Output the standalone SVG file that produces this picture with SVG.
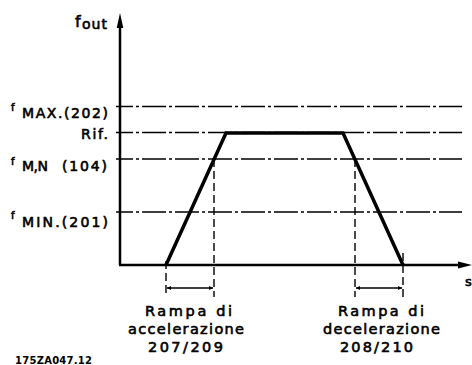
<svg xmlns="http://www.w3.org/2000/svg" width="472" height="365" viewBox="0 0 472 365">
<style>
text{font-family:"DejaVu Sans","Liberation Sans",sans-serif;fill:#000;stroke:#000;stroke-width:0.6}
.lbl{font-size:14px}
.small{font-size:10px}
.bot{font-size:14.5px;text-anchor:middle}
.ref{fill:none;stroke:#000;stroke-width:1.4;stroke-dasharray:24 3 3 3;stroke-dashoffset:7}
.vd{fill:none;stroke:#000;stroke-width:1.4;stroke-dasharray:8 4}
.axis{fill:none;stroke:#000;stroke-width:2.5}
.ramp{fill:none;stroke:#000;stroke-width:3.5;stroke-linejoin:miter}
.dim{fill:none;stroke:#000;stroke-width:1.3}
</style>
<defs>
<marker id="ah" viewBox="0 0 10 10" refX="10" refY="5" markerWidth="6" markerHeight="4" markerUnits="userSpaceOnUse" orient="auto-start-reverse">
<path d="M0,0 L10,5 L0,10 Z" fill="#000"/>
</marker>
</defs>
<rect width="472" height="365" fill="#fff"/>
<g id="reference-lines">
<line class="ref" x1="116" y1="106.5" x2="462" y2="106.5"/>
<line class="ref" x1="116" y1="132.5" x2="462" y2="132.5"/>
<line class="ref" x1="116" y1="159" x2="462" y2="159"/>
<line class="ref" x1="116" y1="212" x2="462" y2="212"/>
</g>
<g id="connectors">
<line class="vd" x1="214" y1="159" x2="214" y2="297"/>
<line class="vd" x1="355" y1="159" x2="355" y2="297"/>
<line class="vd" x1="166" y1="261" x2="166" y2="297"/>
<line class="vd" x1="403" y1="253" x2="403" y2="297"/>
<line class="dim" x1="167" y1="288" x2="213" y2="288" marker-start="url(#ah)" marker-end="url(#ah)"/>
<line class="dim" x1="356" y1="288" x2="402" y2="288" marker-start="url(#ah)" marker-end="url(#ah)"/>
</g>
<g id="axes">
<line class="axis" x1="120" y1="265" x2="120" y2="26"/>
<path d="M120,13 L123.3,28 L116.7,28 Z" fill="#000"/>
<line class="axis" x1="119" y1="265" x2="460" y2="265"/>
<path d="M472,265 L458,261.5 L458,268.5 Z" fill="#000"/>
</g>
<g id="ramp">
<polyline class="ramp" points="166,265 226,133 343,133 403,265"/>
</g>
<g id="y-labels">
<text class="lbl"><tspan x="75" y="27" style="font-size:16px">f</tspan><tspan x="82" y="29" style="font-size:14px" textLength="25" lengthAdjust="spacing">out</tspan></text>
<text class="lbl"><tspan class="small" x="11" y="111">f</tspan><tspan x="22" y="118" textLength="86" lengthAdjust="spacing">MAX.(202)</tspan></text>
<text class="lbl" x="108" y="139" text-anchor="end" textLength="27" lengthAdjust="spacing">Rif.</text>
<text class="lbl"><tspan class="small" x="11" y="165">f</tspan><tspan x="22" y="171" textLength="26" lengthAdjust="spacing">M,N</tspan><tspan x="62" y="171" textLength="45" lengthAdjust="spacing">(104)</tspan></text>
<text class="lbl"><tspan class="small" x="11" y="219">f</tspan><tspan x="22" y="226.5" textLength="86" lengthAdjust="spacing">MIN.(201)</tspan></text>
<text x="465" y="286" style="font-size:13px">s</text>
</g>
<g id="label-accel">
<text class="bot" x="188.5" y="316" textLength="87" lengthAdjust="spacing">Rampa di</text>
<text class="bot" x="186" y="334" textLength="116" lengthAdjust="spacing">accelerazione</text>
<text class="bot" x="185.5" y="352" textLength="75" lengthAdjust="spacing">207/209</text>
</g>
<g id="label-decel">
<text class="bot" x="381" y="316" textLength="86" lengthAdjust="spacing">Rampa di</text>
<text class="bot" x="381.5" y="334" textLength="117" lengthAdjust="spacing">decelerazione</text>
<text class="bot" x="376.5" y="352" textLength="73" lengthAdjust="spacing">208/210</text>
</g>
<text x="15" y="364" style="font-size:10px;font-weight:bold;stroke-width:0" textLength="77" lengthAdjust="spacing">175ZA047.12</text>
</svg>
